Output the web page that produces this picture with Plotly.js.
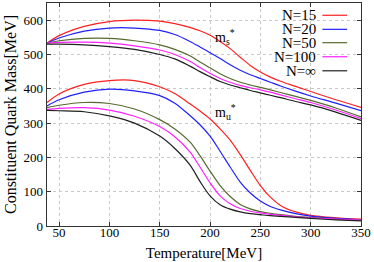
<!DOCTYPE html>
<html>
<head>
<meta charset="utf-8">
<script src="https://cdn.plot.ly/plotly-3.0.1.min.js"></script>
<style>html,body{margin:0;padding:0;background:#fff;}#chart{width:374px;height:262px;}</style>
</head>
<body>
<div id="chart"></div>
<script>
const T = [38, 50, 75, 100, 125, 150, 165, 180, 190, 200, 210, 220, 230, 240, 250, 260, 270, 285, 300, 325, 350];
const seriesNames = ["N=15", "N=20", "N=50", "N=100", "N=\u221e"];
const seriesColors = ["#ff2020", "#2020ff", "#556b2f", "#ff20ff", "#202020"];

const ms_N15  = [533, 555, 582, 596, 600, 597, 590, 579, 569, 556, 538, 517, 492, 468, 449, 434, 422, 407, 392, 368, 346];
const ms_N20  = [533, 548, 568, 577, 577, 570, 558, 538, 522, 505, 488, 470, 454, 441, 430, 419, 408, 393, 379, 358, 336];
const ms_N50  = [533, 540, 547, 547, 540, 528, 515, 496, 478, 461, 444, 430, 419, 411, 404, 397, 389, 378, 366, 344, 318];
const ms_N100 = [533, 535, 536, 533, 525, 513, 500, 480, 462, 445, 430, 419, 410, 403, 397, 390, 382, 371, 360, 338, 313];
const ms_Ninf = [530, 530, 528, 523, 515, 500, 487, 466, 450, 435, 421, 411, 403, 395, 388, 381, 374, 363, 353, 332, 308];

const mu_N15  = [360, 385, 413, 424, 424, 406, 386, 356, 335, 312, 283, 250, 208, 162, 118, 84, 60, 41, 31, 24, 20];
const mu_N20  = [350, 368, 390, 399, 394, 380, 358, 322, 295, 262, 218, 172, 128, 96, 73, 57, 47, 36, 29, 22, 18];
const mu_N50  = [345, 352, 360, 357, 341, 310, 283, 245, 205, 160, 118, 86, 63, 50, 42, 37, 33, 28, 25, 20, 17];
const mu_N100 = [340, 343, 345, 338, 320, 290, 260, 216, 172, 126, 88, 65, 51, 43, 38, 34, 31, 27, 24, 20, 17];
const mu_Ninf = [337, 336, 333, 321, 300, 262, 226, 178, 130, 88, 62, 49, 41, 36, 33, 30, 28, 25, 22, 18, 15];

const msSeries = [ms_N15, ms_N20, ms_N50, ms_N100, ms_Ninf];
const muSeries = [mu_N15, mu_N20, mu_N50, mu_N100, mu_Ninf];

const xTicks = [50, 100, 150, 200, 250, 300, 350];
const yTicks = [0, 100, 200, 300, 400, 500, 600];

const traces = [];
[msSeries, muSeries].forEach(function (group) {
  group.forEach(function (ys, i) {
    traces.push({
      x: T, y: ys, type: 'scatter', mode: 'lines', name: seriesNames[i],
      showlegend: false,
      line: {color: seriesColors[i], width: 1.2, shape: 'spline', smoothing: 0.9}
    });
  });
});

const serif = 'Liberation Serif, Times New Roman, serif';

const annotations = [];
const shapes = [];
const legY = [0.945, 0.882, 0.822, 0.759, 0.696];
seriesNames.forEach(function (nm, i) {
  annotations.push({xref: 'paper', yref: 'paper', x: 0.862, y: legY[i], xanchor: 'right', yanchor: 'middle',
    text: nm, showarrow: false, font: {family: serif, size: 15, color: '#000'}});
  shapes.push({type: 'line', xref: 'paper', yref: 'paper', x0: 0.877, x1: 0.956, y0: legY[i], y1: legY[i],
    line: {color: seriesColors[i], width: 1.2}});
});
// m_s* and m_u* labels
annotations.push({x: 215, y: 550, text: 'm<sub>s</sub><sup>*</sup>', showarrow: false, xanchor: 'center', yanchor: 'middle',
  font: {family: serif, size: 14, color: '#000'}});
annotations.push({x: 215, y: 332, text: 'm<sub>u</sub><sup>*</sup>', showarrow: false, xanchor: 'center', yanchor: 'middle',
  font: {family: serif, size: 14, color: '#000'}});

const layout = {
  width: 374, height: 262,
  margin: {l: 47, r: 13, t: 3, b: 36, pad: 0},
  paper_bgcolor: '#fff', plot_bgcolor: '#fff',
  showlegend: false,
  font: {family: serif, size: 13, color: '#000'},
  xaxis: {
    range: [38, 350], tickvals: xTicks, ticktext: xTicks.map(String),
    showgrid: true, gridcolor: '#c8c8c8', griddash: 'dot', gridwidth: 1,
    zeroline: false, showline: true, linecolor: '#333', linewidth: 1.3, mirror: 'ticks',
    ticks: 'inside', ticklen: 4, tickcolor: '#333', ticklabelstandoff: -6,
    tickfont: {family: serif, size: 13, color: '#000'},
    title: {text: 'Temperature[MeV]', font: {family: serif, size: 15, color: '#000'}, standoff: 8}
  },
  yaxis: {
    range: [0, 650], tickvals: yTicks, ticktext: yTicks.map(String),
    showgrid: true, gridcolor: '#c8c8c8', griddash: 'dot', gridwidth: 1,
    zeroline: false, showline: true, linecolor: '#333', linewidth: 1.3, mirror: 'ticks',
    ticks: 'inside', ticklen: 4, tickcolor: '#333',
    tickfont: {family: serif, size: 13, color: '#000'},
    title: {text: 'Constituent Quark Mass[MeV]', font: {family: serif, size: 16, color: '#000'}, standoff: 3}
  },
  annotations: annotations,
  shapes: shapes
};

Plotly.newPlot('chart', traces, layout, {displayModeBar: false, staticPlot: true});
</script>
</body>
</html>
